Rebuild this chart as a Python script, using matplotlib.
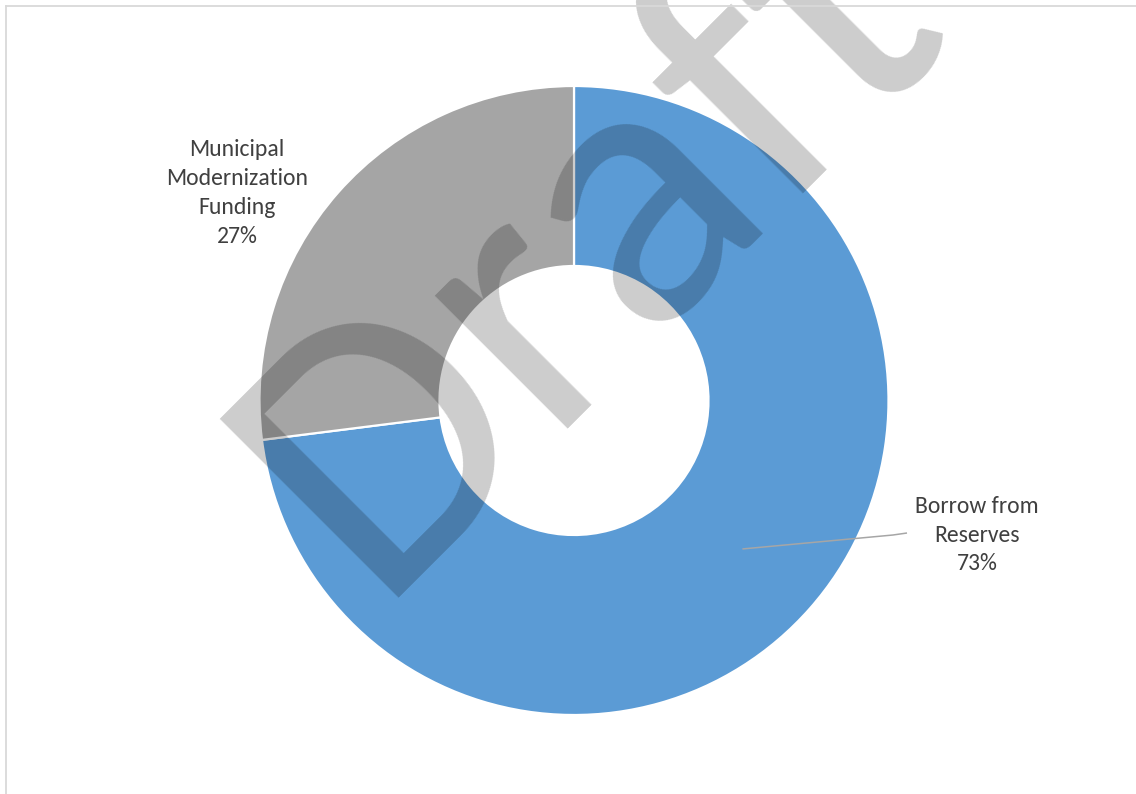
import numpy as np
import matplotlib
matplotlib.use("Agg")
import matplotlib.pyplot as plt
from matplotlib.lines import Line2D

# ---- data ----
categories = ["Borrow from Reserves", "Municipal Modernization Funding"]
values = [73, 27]
label_lines = ["Borrow from\nReserves", "Municipal\nModernization\nFunding"]
colors = ["#5B9BD5", "#A5A5A5"]

W, H = 1136, 794
fig = plt.figure(figsize=(W / 100, H / 100), dpi=100)
ax = fig.add_axes([0, 0, 1, 1])

cx, cy = 574, H - 400.5
R, ring = 314.5, 180

wedges, _ = ax.pie(values, colors=colors, startangle=90, counterclock=False,
                   radius=R, center=(cx, cy),
                   wedgeprops=dict(width=ring, edgecolor="white", linewidth=1.6))
ax.set_xlim(0, W)
ax.set_ylim(0, H)
ax.set_aspect("auto")
ax.set_position([0, 0, 1, 1])
ax.axis("off")

label_font = "Carlito"
txt_color = "#404040"
tot = sum(values)
pcts = [f"{round(v / tot * 100)}%" for v in values]

# Borrow from Reserves label (right) with leader line
ang0 = 90 - values[0] / tot * 360 / 2
rm = R - ring / 2
sx = cx + rm * np.cos(np.radians(ang0))
sy = cy + rm * np.sin(np.radians(ang0))
ax.plot([sx, 893, 907], [sy, H - 535, H - 533], color="#A6A6A6", lw=1.1,
        solid_capstyle="butt")
ax.text(977, H - 535, label_lines[0] + "\n" + pcts[0], ha="center", va="center",
        fontsize=17, family=label_font, color=txt_color, linespacing=1.47)

# Municipal label (left)
ax.text(237, H - 193, label_lines[1] + "\n" + pcts[1], ha="center", va="center",
        fontsize=17, family=label_font, color=txt_color, linespacing=1.47)

# chart frame (partially visible)
fig.add_artist(Line2D([6 / W, 1], [1 - 6 / H, 1 - 6 / H], transform=fig.transFigure,
                      color="#D9D9D9", lw=1.3))
fig.add_artist(Line2D([6 / W, 6 / W], [0, 1 - 6 / H], transform=fig.transFigure,
                      color="#D9D9D9", lw=1.3))

# watermark
ax.text(372, H - 598, "Draft", rotation=45, rotation_mode="anchor",
        ha="left", va="baseline", fontsize=283, family="Carlito", color="black",
        alpha=0.2, zorder=10)

fig.savefig("out.png", dpi=100)
